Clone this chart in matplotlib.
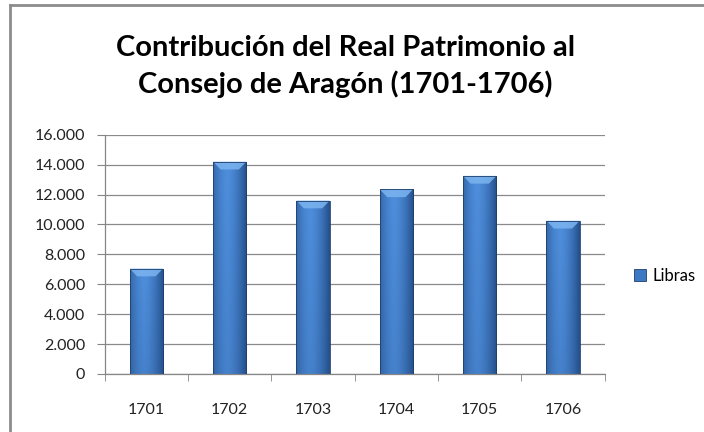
import numpy as np
import matplotlib
matplotlib.use("Agg")
from matplotlib import pyplot as plt
from matplotlib.patches import Polygon, Rectangle
from matplotlib.lines import Line2D
from matplotlib.ticker import FuncFormatter, FixedLocator

years = ["1701", "1702", "1703", "1704", "1705", "1706"]
libras = [7050, 14200, 11600, 12350, 13250, 10250]
series_name = "Libras"
title = "Contribución del Real Patrimonio al\nConsejo de Aragón (1701-1706)"

plt.rcParams['font.family'] = ['Lato', 'DejaVu Sans']

fig = plt.figure(figsize=(7.04, 4.32), dpi=100)
ax = fig.add_axes([0.1487, 0.1343, 0.7103, 0.5538])

x = np.arange(len(years))
bars = ax.bar(x, libras, width=0.4, color='none', edgecolor='#1f3f6a', linewidth=0.6, zorder=3)

# horizontal gradient (cylinder-ish shading like Excel 2007)
cols = np.linspace(0, 1, 64)
light = np.array([0x4e, 0x8e, 0xdc]) / 255
dark = np.array([0x24, 0x4f, 0x8a]) / 255
shade = 1 - np.clip(np.abs(cols - 0.42) / 0.58, 0, 1) ** 1.6
rows = np.linspace(0, 1, 64)[:, None]
vfade = 0.8 + 0.2 * rows  # darker at the bottom
img = (dark + (light - dark) * shade[None, :, None]) * vfade[..., None] + dark * (1 - vfade[..., None])
img = np.clip(img, 0, 1)

for b in bars:
    x0, w, h = b.get_x(), b.get_width(), b.get_height()
    im = ax.imshow(img, extent=[x0, x0 + w, 0, h], origin='lower', aspect='auto', zorder=2, interpolation='bilinear')
    im.set_clip_path(b)
    # bevel on top
    bev = 520
    top = Polygon([[x0, h], [x0 + w, h], [x0 + w - 0.09, h - bev], [x0 + 0.09, h - bev]],
                  closed=True, facecolor='#7cb4f0', edgecolor='none', alpha=0.85, zorder=2.5)
    ax.add_patch(top)

ax.set_xlim(-0.5, len(years) - 0.5)
ax.set_ylim(0, 16000)
ax.yaxis.set_major_locator(FixedLocator(np.arange(0, 16001, 2000)))
ax.yaxis.set_major_formatter(FuncFormatter(lambda v, p: f"{int(v):,}".replace(",", ".")))
ax.set_xticks(x)
ax.set_xticklabels(years)
ax.set_xticks(np.arange(-0.5, len(years), 1), minor=True)
ax.tick_params(axis='x', which='major', length=0, pad=21, labelsize=11.5, colors='#222222')
ax.tick_params(axis='x', which='minor', length=5, color='#868686', direction='out')
ax.tick_params(axis='y', length=6, color='#868686', labelsize=11.5, labelcolor='#222222', pad=8)

ax.grid(axis='y', color='#8a8a8a', linewidth=0.9, zorder=0)
ax.set_axisbelow(True)
for s in ['top', 'right']:
    ax.spines[s].set_visible(False)
for s in ['left', 'bottom']:
    ax.spines[s].set_color('#868686')
    ax.spines[s].set_linewidth(0.9)

fig.text(0.491, 0.847, title, ha='center', va='center', fontsize=21, fontweight='bold',
         linespacing=1.42, color='black')

handle = Rectangle((0, 0), 1, 1, facecolor='#3c78c4', edgecolor='#1f3f6a', linewidth=0.6)
fig.legend([handle], [series_name], loc='center left', bbox_to_anchor=(0.901, 0.361),
           frameon=False, fontsize=12, handlelength=0.7, handleheight=0.7, handletextpad=0.4,
           borderpad=0, borderaxespad=0)

# chart area border (only visible left and top in the crop)
fig.add_artist(Line2D([0.0135, 0.0135], [0, 0.988], color='#8c8c8c', linewidth=2, transform=fig.transFigure))
fig.add_artist(Line2D([0.0135, 1.0], [0.988, 0.988], color='#8c8c8c', linewidth=2, transform=fig.transFigure))

fig.savefig("out.png", dpi=100, facecolor='white')
